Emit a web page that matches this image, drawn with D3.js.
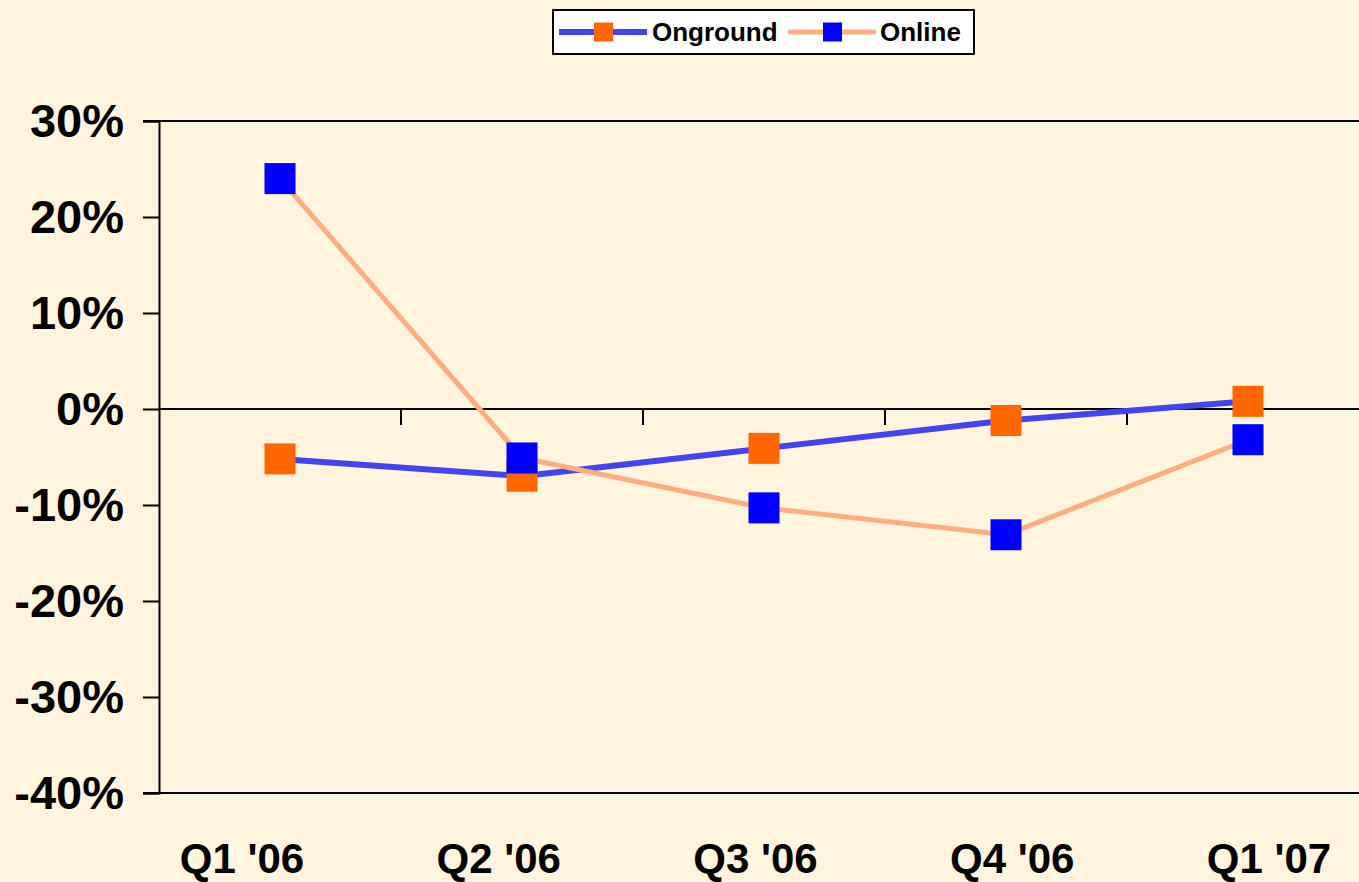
<!DOCTYPE html>
<html>
<head>
<meta charset="utf-8">
<script src="https://cdn.jsdelivr.net/npm/d3@7"></script>
<style>
  html, body { margin: 0; padding: 0; background: #fff4de; }
  svg { display: block; font-family: "Liberation Sans", Arial, sans-serif; }
</style>
</head>
<body>
<svg id="chart" width="1359" height="882"></svg>
<script>
// Quarter labels along the x axis
const quarters = ["Q1 '06", "Q2 '06", "Q3 '06", "Q4 '06", "Q1 '07"];
// Year-over-year change, percent
const onground = [-5.2, -7.0, -4.1, -1.2, 0.8];
const online = [24.0, -5.1, -10.3, -13.1, -3.2];
// Y axis tick values, percent
const yTicks = [30, 20, 10, 0, -10, -20, -30, -40];

const svg = d3.select("#chart");
const W = 1359, H = 882;
svg.append("rect").attr("width", W).attr("height", H).attr("fill", "#fff4de");

const margin = { left: 159, top: 121, bottom: 793 };
const plotRight = margin.left + 242 * quarters.length;

const x = d3.scaleBand().domain(quarters).range([margin.left, plotRight]);
const y = d3.scaleLinear().domain([-40, 30]).range([margin.bottom, margin.top]);
// Category label positions along the bottom
const xLabel = d3.scalePoint().domain(quarters).range([242, 1269]);

const colors = {
  ongroundLine: "#4343f2",
  ongroundMark: "#ff6600",
  onlineLine: "#ffad7f",
  onlineMark: "#0000ff"
};

// Plot frame: top and bottom edges
const frame = svg.append("g");
[30, -40].forEach(v => {
  frame.append("line")
    .attr("x1", margin.left - 16).attr("x2", plotRight)
    .attr("y1", y(v)).attr("y2", y(v))
    .attr("stroke", "#000").attr("stroke-width", 2);
});

// Y axis
const yAxis = d3.axisLeft(y)
  .tickValues(yTicks)
  .tickSize(16)
  .tickPadding(19)
  .tickFormat(d => d + "%");
const yg = svg.append("g")
  .attr("transform", `translate(${margin.left},0)`)
  .call(yAxis);
yg.select(".domain").attr("stroke", "#000").attr("stroke-width", 2);
yg.selectAll(".tick line").attr("stroke", "#000").attr("stroke-width", 2);
yg.selectAll(".tick text")
  .attr("fill", "#000")
  .attr("dy", "0.34em")
  .attr("font-size", 47)
  .attr("font-weight", "bold")
  .attr("font-family", "'Liberation Sans', Arial, sans-serif");

// X axis at zero, with ticks between categories
const xg = svg.append("g").attr("transform", `translate(0,${y(0)})`);
xg.append("line")
  .attr("x1", margin.left).attr("x2", plotRight)
  .attr("stroke", "#000").attr("stroke-width", 2);
xg.selectAll(".sep")
  .data(quarters.slice(1))
  .join("line")
  .attr("class", "sep")
  .attr("x1", d => x(d)).attr("x2", d => x(d))
  .attr("y1", 0).attr("y2", 16)
  .attr("stroke", "#000").attr("stroke-width", 2);

// Category labels below the plot
svg.append("g").selectAll("text")
  .data(quarters)
  .join("text")
  .attr("x", d => xLabel(d))
  .attr("y", 873)
  .attr("text-anchor", "middle")
  .attr("font-size", 42)
  .attr("font-weight", "bold")
  .attr("fill", "#000")
  .text(d => d);

const cx = (d, i) => x(quarters[i]) + x.bandwidth() / 2;
const line = d3.line().x((d, i) => cx(d, i)).y(d => y(d));
const M = 31;

function drawSeries(values, lineColor, lineWidth, markColor) {
  const g = svg.append("g");
  g.append("path")
    .datum(values)
    .attr("d", line)
    .attr("fill", "none")
    .attr("stroke", lineColor)
    .attr("stroke-width", lineWidth);
  g.selectAll("rect")
    .data(values)
    .join("rect")
    .attr("x", (d, i) => cx(d, i) - M / 2)
    .attr("y", d => y(d) - M / 2)
    .attr("width", M).attr("height", M)
    .attr("fill", markColor);
}

drawSeries(onground, colors.ongroundLine, 6, colors.ongroundMark);
drawSeries(online, colors.onlineLine, 5, colors.onlineMark);

// Legend
const legend = svg.append("g").attr("transform", "translate(552,9)");
legend.append("rect")
  .attr("x", 1).attr("y", 1).attr("width", 421).attr("height", 44)
  .attr("fill", "#fff").attr("stroke", "#000").attr("stroke-width", 2);

const legendItems = [
  { name: "Onground", line: colors.ongroundLine, lw: 6, mark: colors.ongroundMark, x0: 7, tx: 100 },
  { name: "Online", line: colors.onlineLine, lw: 5, mark: colors.onlineMark, x0: 236, tx: 328 }
];
legendItems.forEach(it => {
  legend.append("line")
    .attr("x1", it.x0).attr("x2", it.x0 + 88)
    .attr("y1", 23).attr("y2", 23)
    .attr("stroke", it.line).attr("stroke-width", it.lw);
  legend.append("rect")
    .attr("x", it.x0 + 35).attr("y", 13.5)
    .attr("width", 19).attr("height", 19)
    .attr("fill", it.mark);
  legend.append("text")
    .attr("x", it.tx).attr("y", 32)
    .attr("font-size", 26)
    .attr("font-weight", "bold")
    .attr("fill", "#000")
    .text(it.name);
});
</script>
</body>
</html>
